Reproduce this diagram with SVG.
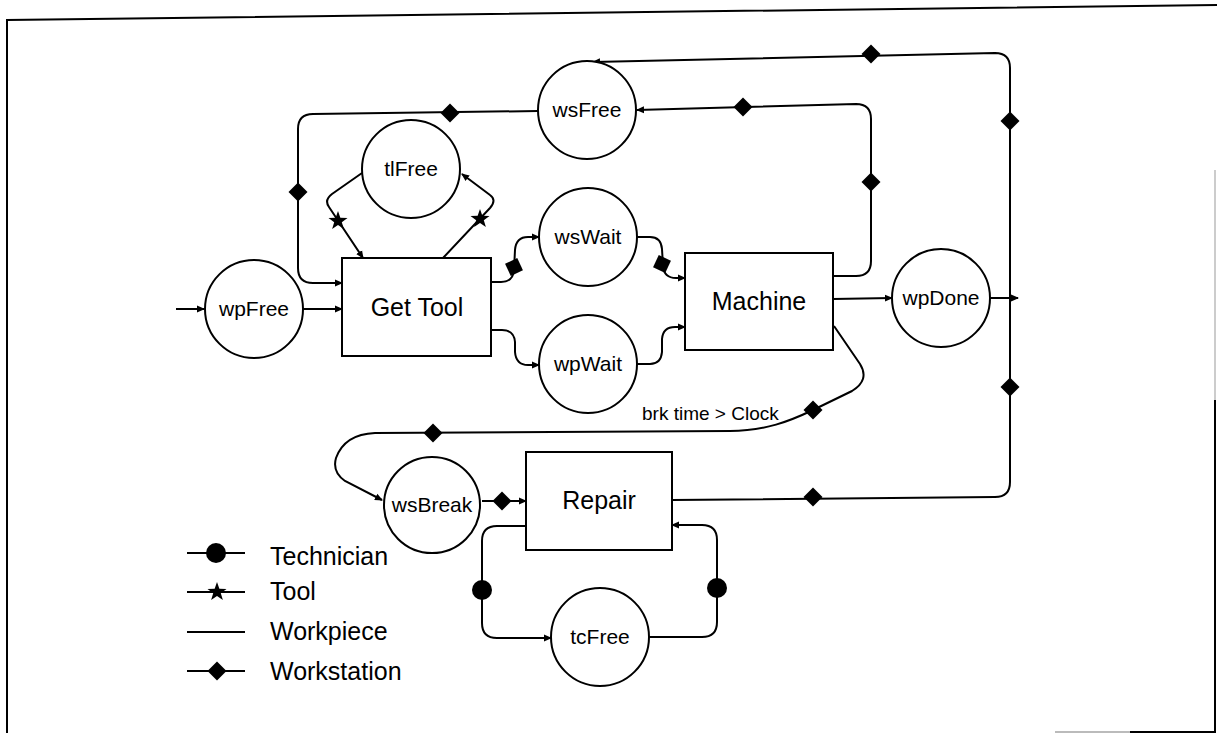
<svg xmlns="http://www.w3.org/2000/svg" xmlns:xlink="http://www.w3.org/1999/xlink" width="1217" height="733" viewBox="0 0 1217 733">
  <style>
    .place { fill: #fff; stroke: #000; stroke-width: 2; }
    .trans { fill: #fff; stroke: #000; stroke-width: 2; }
    .arc { fill: none; stroke: #000; stroke-width: 2; }
    .lbl { font-family: "Liberation Sans", Arial, sans-serif; fill: #000; text-anchor: middle; }
    .pl { font-size: 21px; }
    .tl { font-size: 25px; }
    .leg { font-family: "Liberation Sans", Arial, sans-serif; font-size: 25px; fill: #000; }
    .cond { font-family: "Liberation Sans", Arial, sans-serif; font-size: 19px; fill: #000; }
  </style>
  <defs>
    <marker id="arr" markerUnits="userSpaceOnUse" markerWidth="8" markerHeight="8" refX="7" refY="4" orient="auto">
      <path d="M0,0.5 L8,4 L0,7.5 z" fill="#000"/>
    </marker>
    <polygon id="dia" points="0,-9.5 9.5,0 0,9.5 -9.5,0" fill="#000"/>
    <polygon id="star" points="0,-10 2.35,-3.24 9.51,-3.09 3.8,1.24 5.88,8.09 0,4 -5.88,8.09 -3.8,1.24 -9.51,-3.09 -2.35,-3.24" fill="#000"/>
    <circle id="dot" r="10" fill="#000"/>
  </defs>

  <rect width="1217" height="733" fill="#fff"/>

  <!-- frame -->
  <g id="frame" fill="none" stroke-width="2">
    <polyline points="7,733 7,20 1217,5" stroke="#000"/>
    <line x1="1215" y1="170" x2="1215" y2="400" stroke="#ccc"/>
    <polyline points="1215,400 1215,732 1130,732" stroke="#000"/>
    <line x1="1130" y1="732" x2="1055" y2="732" stroke="#bbb"/>
  </g>

  <!-- connectors -->
  <g id="connectors">
    <path class="arc" d="M176,309 L204,309" marker-end="url(#arr)"/>
    <path class="arc" d="M303,309 L342,309" marker-end="url(#arr)"/>

    <!-- tool loop -->
    <path class="arc" d="M362,173 L332,194 Q324,200 329,207 L363,258" marker-end="url(#arr)"/>
    <path class="arc" d="M443,258 L490,208 Q497,200 490,195 L462,174" marker-end="url(#arr)"/>

    <!-- workstation returns -->
    <path class="arc" d="M538,111 L313,114 Q298,114 298,129 L298,268 Q298,283 313,283 L342,283" marker-end="url(#arr)"/>
    <path class="arc" d="M833,276 L856,276 Q871,276 871,261 L871,119 Q871,104 856,104 L637,110" marker-end="url(#arr)"/>
    <path class="arc" d="M672,500 L995,497 Q1010,497 1010,482 L1010,68 Q1010,53 995,53 L593,62" marker-end="url(#arr)"/>

    <!-- Get Tool to waits -->
    <path class="arc" d="M491,282 L501,282 Q513,282 514,270 L515,250 Q516,237 528,237 L539,237" marker-end="url(#arr)"/>
    <path class="arc" d="M491,330 L502,330 Q514,330 515,342 L515,352 Q516,365 528,365 L539,365" marker-end="url(#arr)"/>

    <!-- waits to Machine -->
    <path class="arc" d="M637,237 L650,237 Q661,237 662,249 L663,266 Q664,278 676,278 L685,278" marker-end="url(#arr)"/>
    <path class="arc" d="M637,364 L650,364 Q661,364 662,352 L662,339 Q663,327 675,327 L685,327" marker-end="url(#arr)"/>

    <!-- Machine outputs -->
    <path class="arc" d="M833,299 L892,298" marker-end="url(#arr)"/>
    <path class="arc" d="M990,298 L1018,298" marker-end="url(#arr)"/>
    <path class="arc" d="M834,326 L860,364 Q870,380 852,391 L813,410 C790,421 765,431 730,431 L375,433 C350,434 340,447 336,458 Q332,472 345,481 L382,500" marker-end="url(#arr)"/>

    <!-- repair -->
    <path class="arc" d="M482,501 L526,501" marker-end="url(#arr)"/>
    <path class="arc" d="M526,526 L497,526 Q482,526 482,541 L482,623 Q482,638 497,638 L551,638" marker-end="url(#arr)"/>
    <path class="arc" d="M648,637 L702,637 Q717,637 717,622 L717,540 Q717,525 702,525 L672,525" marker-end="url(#arr)"/>

    <!-- token-type markers on arcs -->
    <use xlink:href="#star" x="338" y="221"/>
    <use xlink:href="#star" x="480" y="219"/>
    <use xlink:href="#dia" x="298" y="192"/>
    <use xlink:href="#dia" x="450" y="113"/>
    <use xlink:href="#dia" x="871" y="182"/>
    <use xlink:href="#dia" x="743" y="107"/>
    <use xlink:href="#dia" x="871" y="54"/>
    <use xlink:href="#dia" x="1010" y="121"/>
    <use xlink:href="#dia" x="1010" y="387"/>
    <use xlink:href="#dia" x="813" y="497"/>
    <use xlink:href="#dia" transform="translate(514,267) rotate(20)"/>
    <use xlink:href="#dia" transform="translate(662,264) rotate(-20)"/>
    <use xlink:href="#dia" x="813" y="410"/>
    <use xlink:href="#dia" x="433" y="433"/>
    <use xlink:href="#dia" x="502" y="501"/>
    <use xlink:href="#dot" x="482" y="590"/>
    <use xlink:href="#dot" x="717" y="588"/>

    <text class="cond" x="642" y="420">brk time &gt; Clock</text>
  </g>

  <!-- places -->
  <g id="wpFree"><circle class="place" cx="254" cy="309" r="49"/><text class="lbl pl" x="254" y="316">wpFree</text></g>
  <g id="tlFree"><circle class="place" cx="411" cy="169" r="49"/><text class="lbl pl" x="411" y="176">tlFree</text></g>
  <g id="wsFree"><circle class="place" cx="587" cy="110" r="49"/><text class="lbl pl" x="587" y="117">wsFree</text></g>
  <g id="wsWait"><circle class="place" cx="588" cy="237" r="49"/><text class="lbl pl" x="588" y="244">wsWait</text></g>
  <g id="wpWait"><circle class="place" cx="588" cy="364" r="49"/><text class="lbl pl" x="588" y="371">wpWait</text></g>
  <g id="wpDone"><circle class="place" cx="941" cy="298" r="49"/><text class="lbl pl" x="941" y="305">wpDone</text></g>
  <g id="wsBreak"><circle class="place" cx="432" cy="505" r="48"/><text class="lbl pl" x="432" y="512">wsBreak</text></g>
  <g id="tcFree"><circle class="place" cx="600" cy="637" r="49"/><text class="lbl pl" x="600" y="644">tcFree</text></g>

  <!-- transitions -->
  <g id="getTool"><rect class="trans" x="342" y="258" width="149" height="98"/><text class="lbl tl" x="417" y="316">Get Tool</text></g>
  <g id="machine"><rect class="trans" x="685" y="253" width="148" height="97"/><text class="lbl tl" x="759" y="310">Machine</text></g>
  <g id="repair"><rect class="trans" x="526" y="452" width="146" height="98"/><text class="lbl tl" x="599" y="509">Repair</text></g>

  <!-- legend -->
  <g id="legend">
    <line class="arc" x1="187" y1="553" x2="245" y2="553"/>
    <use xlink:href="#dot" x="216" y="553"/>
    <text class="leg" x="270" y="565">Technician</text>
    <line class="arc" x1="187" y1="592" x2="245" y2="592"/>
    <use xlink:href="#star" x="217" y="592"/>
    <text class="leg" x="270" y="600">Tool</text>
    <line class="arc" x1="187" y1="632" x2="245" y2="632"/>
    <text class="leg" x="270" y="640">Workpiece</text>
    <line class="arc" x1="187" y1="671" x2="245" y2="671"/>
    <use xlink:href="#dia" x="217" y="671"/>
    <text class="leg" x="270" y="680">Workstation</text>
  </g>
</svg>
